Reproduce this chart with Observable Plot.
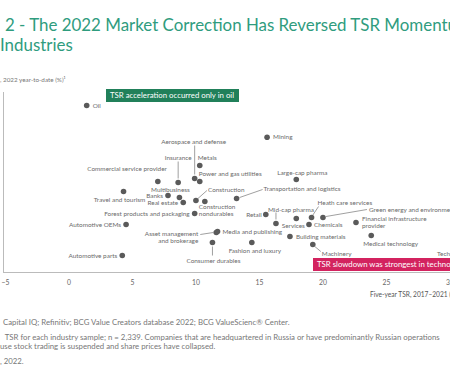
<!DOCTYPE html>
<html><head><meta charset="utf-8">
<script src="https://cdn.jsdelivr.net/npm/d3@7"></script>
<script src="https://cdn.jsdelivr.net/npm/@observablehq/plot@0.6"></script>
<style>
body{margin:0;background:#fff;}
#wrap{position:relative;width:450px;height:375px;overflow:hidden;font-family:Lato,"Noto Sans",sans-serif;background:#fff;}
.abs{position:absolute;white-space:nowrap;}
.title{color:#2f9c7e;font-size:16.9px;line-height:20px;}
.foot{color:#777;font-size:7.8px;line-height:9px;}
.box{color:#fff;font-size:7.8px;line-height:13px;height:13px;padding-left:4px;}
#chart{position:absolute;left:0;top:60px;}
#chart svg{max-width:none;overflow:hidden;}
</style></head>
<body><div id="wrap">
<div class="abs title" style="left:5px;top:15px;">2 - The 2022 Market Correction Has Reversed TSR Momentum in Most</div>
<div class="abs title" style="left:0px;top:35px;">Industries</div>
<div class="abs" style="left:0;top:76px;font-size:6.3px;color:#777;">, 2022 year-to-date (%)¹</div>
<div id="chart"></div>
<div class="abs" style="left:370px;top:290px;font-size:6.6px;color:#555;">Five-year TSR, 2017–2021 (%)</div>
<div class="abs box" style="left:106px;top:89px;width:129px;background:#21805a;">TSR acceleration occurred only in oil</div>
<div class="abs box" style="left:313px;top:258px;width:170px;background:#d3235f;">TSR slowdown was strongest in technology</div>
<div class="abs foot" style="left:3px;top:318px;">Capital IQ; Refinitiv; BCG Value Creators database 2022; BCG ValueScienc® Center.</div>
<div class="abs foot" style="left:3px;top:333px;">&nbsp;TSR for each industry sample; n = 2,339. Companies that are headquartered in Russia or have predominantly Russian operations</div>
<div class="abs foot" style="left:0px;top:342px;">use stock trading is suspended and share prices have collapsed.</div>
<div class="abs foot" style="left:0px;top:357px;">, 2022.</div>
</div>
<script>
const industries = ["Oil","Mining","Aerospace and defense","Metals","Power and gas utilities","Insurance",
 "Commercial service provider","Multibusiness","Banks","Real estate","Travel and tourism","Construction",
 "Construction nondurables","Forest products and packaging","Automotive OEMs","Asset management and brokerage",
 "Media and publishing","Consumer durables","Fashion and luxury","Automotive parts","Retail","Mid-cap pharma",
 "Services","Chemicals","Heath care services","Green energy and environment","Financial infrastructure provider",
 "Building materials","Machinery","Medical technology","Large-cap pharma","Transportation and logistics","Technology"];
const fiveYearTSR = [1.4,15.6,9.9,10.3,10.3,8.6,7.0,8.7,7.8,9.0,4.3,10.0,10.7,9.9,4.5,11.6,11.7,11.3,14.4,4.2,15.5,16.3,17.9,18.9,19.1,20.0,22.6,17.4,19.2,23.8,17.9,13.2,30.4];
const oneYearTSR = [33.5,17.6,-3,3.5,-4.5,-5,-4.5,-12.5,-11.5,-15,-9.5,-14,-14.5,-20.5,-26,-30,-29.5,-35,-35,-41.5,-21,-25.5,-23,-26,-22.5,-22.5,-25,-32,-36,-31.5,-3.5,-13,-45];
const xTicks = [-5,0,5,10,15,20,25,30,35];
const xDomain = [-5.15, 35];
const yDomain = [-50, 40];

// label layout: [anchor, dx, dy, leader offsets or null, display text]
const labelLayout = {
 "Oil":["start",6,0],
 "Mining":["start",6,0],
 "Aerospace and defense":["middle",-1,-37,[0,-4,0,-33]],
 "Metals":["start",-2,-8],
 "Power and gas utilities":["start",-1,-8],
 "Insurance":["middle",0,-25,[0,-4,0,-21]],
 "Commercial service provider":["end",9,-13],
 "Multibusiness":["middle",-9,-8],
 "Banks":["end",-5,0],
 "Real estate":["end",-5,0],
 "Travel and tourism":["middle",-4,8],
 "Construction":["start",12,-11,[2,-2,11,-10]],
 "Construction nondurables":["start",-6,9,null,"Construction\nnondurables"],
 "Forest products and packaging":["end",-5,0],
 "Automotive OEMs":["end",-5,0],
 "Asset management and brokerage":["end",-18,5,[-3,0,-16,2],"Asset management\nand brokerage"],
 "Media and publishing":["start",5,0],
 "Consumer durables":["middle",1,18,[0,4,0,13]],
 "Fashion and luxury":["middle",3,8],
 "Automotive parts":["end",-5,0],
 "Retail":["end",-4,0],
 "Mid-cap pharma":["start",-8,-14,[0,-4,0,-11]],
 "Services":["middle",-3,7],
 "Chemicals":["start",5,0],
 "Heath care services":["start",6,-15,[1,-2,7,-11]],
 "Green energy and environment":["start",46,-8,[3,-1,44,-8]],
 "Financial infrastructure provider":["start",6,0,null,"Financial infrastructure\nprovider"],
 "Building materials":["start",6,0],
 "Machinery":["start",9,9,[2,2,8,7]],
 "Medical technology":["start",-8,8],
 "Large-cap pharma":["middle",6,-7],
 "Transportation and logistics":["start",27,-10,[3,-1,26,-9]],
 "Technology":["start",-18,-9]
};

const data = industries.map((name,i)=>({name, x: fiveYearTSR[i], y: oneYearTSR[i]}));
const xRange = [3, 513], yRange = [212, 32];
const kx = (xRange[1]-xRange[0])/(xDomain[1]-xDomain[0]);
const ky = (yRange[0]-yRange[1])/(yDomain[1]-yDomain[0]);

const leaders = data.filter(d=>labelLayout[d.name][3]).map(d=>{
  const o = labelLayout[d.name][3];
  return {x1:d.x+o[0]/kx, y1:d.y-o[1]/ky, x2:d.x+o[2]/kx, y2:d.y-o[3]/ky};
});

const labelMarks = data.map(d=>{
  const [anchor,dx,dy,,txt] = labelLayout[d.name];
  return Plot.text([d],{x:"x",y:"y",text:()=>txt||d.name,textAnchor:anchor,dx,dy,
    fill:"#6a6a6a",fontSize:6.4,lineHeight:1.0});
});

const chart = Plot.plot({
  width:520, height:245, marginLeft:0, marginRight:0, marginTop:0, marginBottom:33,
  style:{fontFamily:"Lato, 'Noto Sans', sans-serif", background:"transparent"},
  x:{domain:xDomain, range:xRange},
  y:{domain:yDomain, range:yRange},
  marks:[
    Plot.ruleX([xDomain[0]],{y1:yDomain[0],y2:yDomain[1],stroke:"#bbb",strokeWidth:1}),
    Plot.ruleY([yDomain[0]],{x1:xDomain[0],x2:xDomain[1],stroke:"#bbb",strokeWidth:1}),
    Plot.axisX(xTicks,{tickSize:0,tickPadding:8,tickFormat:d3.format("d"),fontSize:6.8,fill:"#666",label:null}),
    Plot.link(leaders,{x1:"x1",y1:"y1",x2:"x2",y2:"y2",stroke:"#777",strokeWidth:0.7}),
    Plot.dot(data,{x:"x",y:"y",r:2.8,fill:"#5a5a5a"}),
    ...labelMarks
  ]
});
document.getElementById("chart").appendChild(chart);
</script>
</body></html>
